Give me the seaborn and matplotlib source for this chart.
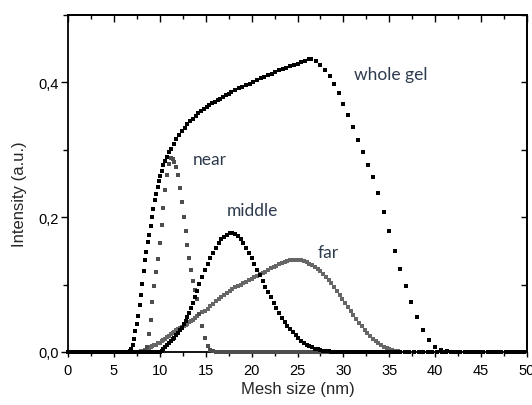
import matplotlib
matplotlib.use("Agg")
import matplotlib.pyplot as plt
import seaborn as sns
from matplotlib.ticker import MultipleLocator

# mesh size grid shared by the near / middle / far profiles (nm)
mesh_grid = [
    0.0, 0.4, 0.8, 1.2, 1.6, 2.0, 2.4, 2.8, 3.2, 3.6, 4.0, 4.4, 4.8, 5.2, 5.6, 6.0, 6.4, 6.8, 7.2, 7.6, 8.0,
    8.2, 8.4, 8.6, 8.8, 9.0, 9.2, 9.4, 9.6, 9.8, 10.0, 10.2, 10.4, 10.6, 10.8, 11.0,
    11.2, 11.4, 11.6, 11.8, 12.0, 12.2, 12.4, 12.6, 12.8, 13.0, 13.2, 13.4, 13.6, 13.8, 14.0,
    14.3, 14.6, 14.9, 15.2, 15.5, 15.8, 16.1, 16.4, 16.7, 17.0,
    17.3, 17.6, 17.9, 18.2, 18.5, 18.8, 19.1, 19.4, 19.7, 20.0,
    20.3, 20.6, 20.9, 21.2, 21.5, 21.8, 22.1, 22.4, 22.7, 23.0,
    23.3, 23.6, 23.9, 24.2, 24.5, 24.8, 25.1, 25.4, 25.7, 26.0,
    26.3, 26.6, 26.9, 27.2, 27.5, 27.8, 28.1, 28.4, 28.7, 29.0,
    29.3, 29.6, 29.9, 30.2, 30.5, 30.8, 31.1, 31.4, 31.7, 32.0,
    32.3, 32.6, 32.9, 33.2, 33.5, 33.8, 34.1, 34.4, 34.7, 35.0,
    35.3, 35.6, 35.9, 36.2,
    36.7, 37.2, 37.7, 38.2, 38.7, 39.2, 39.7, 40.2, 40.7, 41.2, 41.7, 42.2, 42.7, 43.2,
    43.7, 44.2, 44.7, 45.2, 45.7, 46.2, 46.7, 47.2, 47.7, 48.2, 48.7, 49.2, 49.7,
]

near = [
    0, 0, 0, 0, 0, 0, 0, 0, 0, 0, 0, 0, 0, 0, 0, 0, 0, 0, 0, 0, 0,
    0.000, 0.002, 0.008, 0.026, 0.047, 0.074, 0.098, 0.118, 0.138, 0.161, 0.188, 0.214, 0.240, 0.262, 0.279,
    0.288, 0.287, 0.282, 0.274, 0.262, 0.244, 0.223, 0.201, 0.180, 0.159, 0.140, 0.122, 0.106, 0.092, 0.079,
    0.056, 0.038, 0.021, 0.009, 0.003, 0.001, 0, 0, 0, 0,
    0, 0, 0, 0, 0, 0, 0, 0, 0, 0,
    0, 0, 0, 0, 0, 0, 0, 0, 0, 0,
    0, 0, 0, 0, 0, 0, 0, 0, 0, 0,
    0, 0, 0, 0, 0, 0, 0, 0, 0, 0,
    0, 0, 0, 0, 0, 0, 0, 0, 0, 0,
    0, 0, 0, 0, 0, 0, 0, 0, 0, 0,
    0, 0, 0, 0,
    0, 0, 0, 0, 0, 0, 0, 0, 0, 0, 0, 0, 0, 0,
    0, 0, 0, 0, 0, 0, 0, 0, 0, 0, 0, 0, 0,
]

middle = [
    0, 0, 0, 0, 0, 0, 0, 0, 0, 0, 0, 0, 0, 0, 0, 0, 0, 0, 0, 0, 0,
    0, 0, 0, 0, 0, 0, 0, 0, 0, 0.000, 0.002, 0.004, 0.007, 0.010, 0.013,
    0.016, 0.019, 0.021, 0.025, 0.028, 0.032, 0.036, 0.041, 0.046, 0.052, 0.058, 0.065, 0.073, 0.082, 0.091,
    0.101, 0.112, 0.122, 0.131, 0.139, 0.147, 0.154, 0.161, 0.167, 0.171,
    0.174, 0.176, 0.177, 0.175, 0.172, 0.167, 0.161, 0.154, 0.147, 0.139,
    0.131, 0.122, 0.114, 0.105, 0.097, 0.089, 0.081, 0.073, 0.065, 0.058,
    0.051, 0.045, 0.039, 0.034, 0.029, 0.025, 0.021, 0.017, 0.014, 0.011,
    0.009, 0.007, 0.005, 0.004, 0.003, 0.002, 0.001, 0.001, 0.000, 0,
    0, 0, 0, 0, 0, 0, 0, 0, 0, 0,
    0, 0, 0, 0, 0, 0, 0, 0, 0, 0,
    0, 0, 0, 0,
    0, 0, 0, 0, 0, 0, 0, 0, 0, 0, 0, 0, 0, 0,
    0, 0, 0, 0, 0, 0, 0, 0, 0, 0, 0, 0, 0,
]

far = [
    0, 0, 0, 0, 0, 0, 0, 0, 0, 0, 0, 0, 0, 0, 0, 0, 0, 0, 0, 0, 0.001,
    0.002, 0.003, 0.005, 0.006, 0.007, 0.009, 0.010, 0.011, 0.013, 0.014, 0.016, 0.018, 0.020, 0.022, 0.024,
    0.026, 0.028, 0.030, 0.032, 0.034, 0.035, 0.037, 0.039, 0.040, 0.042, 0.044, 0.046, 0.048, 0.051, 0.053,
    0.056, 0.059, 0.061, 0.064, 0.068, 0.071, 0.075, 0.078, 0.082, 0.085,
    0.088, 0.091, 0.093, 0.096, 0.098, 0.100, 0.102, 0.104, 0.107, 0.109,
    0.111, 0.113, 0.115, 0.117, 0.119, 0.122, 0.124, 0.126, 0.128, 0.130,
    0.132, 0.134, 0.135, 0.136, 0.137, 0.137, 0.137, 0.136, 0.135, 0.133,
    0.131, 0.129, 0.126, 0.123, 0.120, 0.116, 0.112, 0.107, 0.102, 0.097,
    0.091, 0.085, 0.079, 0.073, 0.067, 0.061, 0.055, 0.049, 0.043, 0.038,
    0.033, 0.028, 0.024, 0.020, 0.016, 0.013, 0.010, 0.008, 0.006, 0.004,
    0.003, 0.002, 0.001, 0.000,
    0, 0, 0, 0, 0, 0, 0, 0, 0, 0, 0, 0, 0, 0,
    0, 0, 0, 0, 0, 0, 0, 0, 0, 0, 0, 0, 0,
]

# the whole gel profile was sampled on its own grid
mesh_whole = [
    0.0, 0.3, 0.6, 0.9, 1.2, 1.5, 1.8, 2.1, 2.4, 2.7, 3.0, 3.3, 3.6, 3.9, 4.2, 4.5, 4.8, 5.1, 5.4, 5.7, 6.0, 6.3,
    6.6, 6.75, 6.9, 7.05, 7.2, 7.35, 7.5, 7.65, 7.8, 7.95, 8.1, 8.25, 8.4, 8.55, 8.7,
    8.85, 9.0, 9.15, 9.3, 9.45, 9.6, 9.75, 9.9, 10.05, 10.2, 10.4, 10.6, 10.8, 11.0, 11.2,
    11.5, 11.8, 12.1, 12.4, 12.7, 13.0, 13.3, 13.6, 13.9, 14.2, 14.5, 14.8, 15.1, 15.4, 15.7,
    16.0, 16.3, 16.6, 16.9, 17.2, 17.5, 17.8, 18.2, 18.6, 19.0, 19.4, 19.8, 20.2, 20.6, 21.0,
    21.4, 21.8, 22.2, 22.6, 23.0, 23.4, 23.8, 24.2, 24.6, 25.0, 25.4, 25.8, 26.2, 26.5,
    27.0, 27.5, 28.0, 28.5, 29.0, 29.5, 30.0, 30.5, 31.0, 31.55, 32.1, 32.65, 33.2,
    33.8, 34.4, 35.0, 35.6, 36.2, 36.8, 37.4, 38.0, 38.65, 39.3, 39.95, 40.6, 41.25,
    41.9, 42.55, 43.2, 43.85, 44.5, 45.15, 45.8, 46.45, 47.1, 47.75, 48.4, 49.05, 49.7,
]

whole_gel = [
    0, 0, 0, 0, 0, 0, 0, 0, 0, 0, 0, 0, 0, 0, 0, 0, 0, 0, 0, 0, 0, 0,
    0.000, 0.002, 0.005, 0.011, 0.020, 0.031, 0.042, 0.054, 0.070, 0.085, 0.101, 0.120, 0.136, 0.148, 0.163,
    0.173, 0.187, 0.201, 0.212, 0.225, 0.235, 0.245, 0.254, 0.261, 0.268, 0.277, 0.284, 0.290, 0.296, 0.301,
    0.309, 0.316, 0.322, 0.328, 0.333, 0.338, 0.342, 0.346, 0.350, 0.354, 0.357, 0.360, 0.363, 0.366, 0.369,
    0.371, 0.374, 0.376, 0.379, 0.381, 0.383, 0.386, 0.388, 0.391, 0.393, 0.396, 0.398, 0.401, 0.403, 0.406,
    0.408, 0.411, 0.413, 0.415, 0.418, 0.420, 0.422, 0.424, 0.426, 0.428, 0.430, 0.432, 0.434, 0.435,
    0.432, 0.426, 0.419, 0.410, 0.398, 0.384, 0.368, 0.351, 0.334, 0.315, 0.297, 0.278, 0.259,
    0.236, 0.207, 0.179, 0.150, 0.123, 0.098, 0.074, 0.052, 0.033, 0.018, 0.008, 0.003, 0.001,
    0, 0, 0, 0, 0, 0, 0, 0, 0, 0, 0, 0, 0,
]

x_ticks = [0, 5, 10, 15, 20, 25, 30, 35, 40, 45, 50]
y_ticks = [0.0, 0.2, 0.4]
y_tick_labels = ["0,0", "0,2", "0,4"]

sns.set_style("ticks", {"axes.edgecolor": "black", "xtick.color": "black", "ytick.color": "black"})
plt.rcParams["font.family"] = ["Liberation Sans", "DejaVu Sans"]

fig = plt.figure(figsize=(5.32, 4.06), dpi=100)
ax = fig.add_axes([68 / 532, 53 / 406, 459 / 532, 337 / 406])

sns.scatterplot(x=mesh_grid, y=far, ax=ax, marker="s", s=7, color="#666666",
                linewidth=0, clip_on=False, zorder=3)
sns.scatterplot(x=mesh_grid, y=near, ax=ax, marker="s", s=7, color="#4d4d4d",
                linewidth=0, clip_on=False, zorder=4)
sns.scatterplot(x=mesh_grid, y=middle, ax=ax, marker="s", s=7, color="black",
                linewidth=0, clip_on=False, zorder=5)
sns.scatterplot(x=mesh_whole, y=whole_gel, ax=ax, marker="s", s=8.5, color="black",
                linewidth=0, clip_on=False, zorder=6)

ax.set_xlim(0, 50)
ax.set_ylim(0, 0.5)
ax.set_xticks(x_ticks)
ax.xaxis.set_minor_locator(MultipleLocator(2.5))
ax.set_yticks(y_ticks)
ax.set_yticklabels(y_tick_labels)
ax.yaxis.set_minor_locator(MultipleLocator(0.1))

ax.tick_params(axis="y", which="major", direction="out", length=5, width=1, labelsize=10.5, pad=1.5)
ax.tick_params(axis="y", which="minor", direction="out", length=3.5, width=1)
ax.tick_params(axis="x", which="major", direction="out", length=3.6, width=1, labelsize=10.5, pad=4)
ax.tick_params(axis="x", which="minor", direction="out", length=3, width=1)

# Origin style mirror ticks pointing inwards on top and right
top = ax.secondary_xaxis("top")
top.set_xticks(x_ticks)
top.xaxis.set_minor_locator(MultipleLocator(2.5))
top.tick_params(axis="x", which="major", direction="in", length=5, width=1, labeltop=False)
top.tick_params(axis="x", which="minor", direction="in", length=3, width=1)
right = ax.secondary_yaxis("right")
right.set_yticks(y_ticks)
right.yaxis.set_minor_locator(MultipleLocator(0.1))
right.tick_params(axis="y", which="major", direction="in", length=4.5, width=1, labelright=False)
right.tick_params(axis="y", which="minor", direction="in", length=4, width=1)

for a in (ax, top, right):
    for sp in a.spines.values():
        sp.set_linewidth(1.3)

ax.set_xlabel("Mesh size (nm)", fontsize=12)
ax.set_ylabel("Intensity (a.u.)", fontsize=12)
ax.xaxis.set_label_coords(0.5, -0.085)
ax.yaxis.set_label_coords(-0.089, 0.47)

note = dict(fontsize=12.5, family=["Lato", "DejaVu Sans"], color="#2e3b4e", va="center", ha="left")
ax.text(31.15, 0.412, "whole gel", **note)
ax.text(13.6, 0.287, "near", **note)
ax.text(17.3, 0.211, "middle", **note)
ax.text(27.2, 0.149, "far", **note)

fig.savefig("out.png", dpi=100)
